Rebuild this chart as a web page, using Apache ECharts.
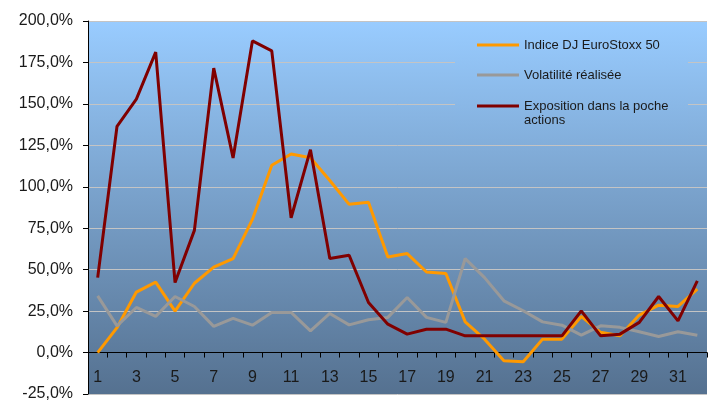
<!DOCTYPE html>
<html>
<head>
<meta charset="utf-8">
<script src="https://cdn.jsdelivr.net/npm/echarts@6/dist/echarts.min.js"></script>
<style>
  html, body { margin: 0; padding: 0; background: #ffffff; }
  #chart { width: 712px; height: 400px; }
</style>
</head>
<body>
<div id="chart"></div>
<script>
// Periods on the horizontal axis
const categories = ['1','2','3','4','5','6','7','8','9','10','11','12','13','14','15','16',
  '17','18','19','20','21','22','23','24','25','26','27','28','29','30','31','32'];

// Index DJ EuroStoxx 50 (%)
const eurostoxx = [0, 15, 36.5, 42.5, 25, 41.8, 51.5, 56.7, 80.3, 113, 119.8, 117.5, 103.8, 89.4, 90.7, 57.6,
  59.7, 48.6, 47.7, 18.5, 8.1, -4.9, -5.5, 8.1, 8.1, 21.8, 12.2, 10.1, 22.6, 28.6, 27.8, 38.2];

// Realised volatility (%)
const volatility = [34.2, 16.1, 27.2, 21.8, 33.8, 27.8, 15.8, 20.6, 16.5, 24.2, 24.2, 13.1, 23.6, 16.7, 19.8, 21.2,
  33.2, 21.2, 18.2, 56.7, 45.2, 31.2, 25.2, 18.5, 16.5, 10.5, 16.1, 15.2, 12.5, 9.7, 12.5, 10.5];

// Equity pocket exposure (%)
const exposure = [45.2, 136.5, 152.9, 181.2, 42.2, 73.7, 171.6, 117.4, 188, 182, 81.3, 122.4, 56.7, 58.7, 30.2, 17.1,
  11.1, 14.1, 14.1, 10.1, 10.1, 10.1, 10.1, 10.1, 10.1, 25.1, 10.1, 11.1, 18.2, 33.8, 19.1, 43.2];

const seriesNames = ['Indice DJ EuroStoxx 50', 'Volatilité réalisée', 'Exposition dans la poche actions'];
const seriesColors = ['#ff9900', '#999999', '#800000'];

// Plot background: vertical gradient
const GRID_TOP = 21, GRID_BOTTOM = 394;
const BG_TOP = [153, 204, 255], BG_BOTTOM = [85, 113, 144];
function bgAt(y) {
  const t = (y - GRID_TOP) / (GRID_BOTTOM - GRID_TOP);
  const c = BG_TOP.map((v, i) => Math.round(v + (BG_BOTTOM[i] - v) * t));
  return 'rgb(' + c.join(',') + ')';
}
const LEG_BOX = { x: 455, y: 25, w: 233, h: 115 };

const fontFamily = 'Arial, "Liberation Sans", sans-serif';
const chart = echarts.init(document.getElementById('chart'), null, { renderer: 'canvas' });

const lineSeries = [eurostoxx, volatility, exposure].map((values, i) => ({
  name: seriesNames[i],
  type: 'line',
  data: values,
  symbol: 'none',
  smooth: false,
  lineStyle: { color: seriesColors[i], width: 3 },
  itemStyle: { color: seriesColors[i] },
  z: 2 + i
}));

const legendCommon = {
  orient: 'vertical',
  left: 477,
  padding: 0,
  icon: 'rect',
  itemWidth: 42,
  itemHeight: 3,
  itemGap: 16,
  textStyle: { fontFamily: fontFamily, fontSize: 13, color: '#1a1a1a', lineHeight: 14 }
};

chart.setOption({
  animation: false,
  backgroundColor: '#ffffff',
  grid: {
    left: 88, right: 5, top: GRID_TOP, bottom: 400 - GRID_BOTTOM,
    outerBoundsMode: 'none',
    show: true,
    borderWidth: 0,
    backgroundColor: {
      type: 'linear', x: 0, y: 0, x2: 0, y2: 1,
      colorStops: [
        { offset: 0, color: bgAt(GRID_TOP) },
        { offset: 1, color: bgAt(GRID_BOTTOM) }
      ]
    }
  },
  graphic: [{
    type: 'rect',
    z: 1,
    silent: true,
    shape: { x: LEG_BOX.x, y: LEG_BOX.y, width: LEG_BOX.w, height: LEG_BOX.h },
    style: {
      fill: {
        type: 'linear', x: 0, y: 0, x2: 0, y2: 1,
        colorStops: [
          { offset: 0, color: bgAt(LEG_BOX.y) },
          { offset: 1, color: bgAt(LEG_BOX.y + LEG_BOX.h) }
        ]
      }
    }
  }],
  legend: [
    Object.assign({}, legendCommon, {
      top: 38,
      data: [seriesNames[0], seriesNames[1]]
    }),
    Object.assign({}, legendCommon, {
      top: 85,
      data: [seriesNames[2]],
      // blank first line keeps the icon level with "Exposition…"
      formatter: function () { return '\nExposition dans la poche\nactions'; }
    })
  ],
  xAxis: {
    type: 'category',
    data: categories,
    boundaryGap: true,
    axisLine: { onZero: true, lineStyle: { color: '#000000', width: 1 } },
    axisTick: { show: true, interval: 0, length: 5, inside: false, lineStyle: { color: '#000000' } },
    axisLabel: {
      interval: 1,
      // labels sit in the band between the zero line and the -25% edge
      margin: -24,
      fontFamily: fontFamily,
      fontSize: 16,
      color: '#1a1a1a'
    },
    splitLine: { show: false }
  },
  yAxis: {
    type: 'value',
    min: -25,
    max: 200,
    interval: 25,
    axisLine: { show: true, lineStyle: { color: '#000000', width: 1 } },
    axisTick: { show: true, length: 5, inside: false, lineStyle: { color: '#000000' } },
    axisLabel: {
      margin: 15,
      fontFamily: fontFamily,
      fontSize: 16,
      color: '#1a1a1a',
      formatter: function (v) { return v.toFixed(1).replace('.', ',') + '%'; }
    },
    splitLine: { show: true, lineStyle: { color: '#c4c4c4', width: 1 } }
  },
  series: lineSeries
});
</script>
</body>
</html>
